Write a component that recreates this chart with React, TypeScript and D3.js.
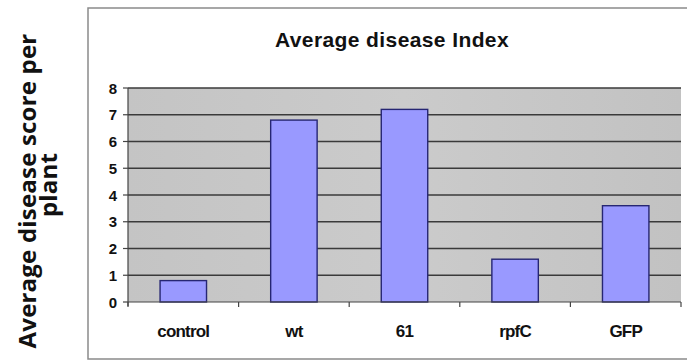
import React from "react";
import * as d3 from "d3";

const categories = ["control", "wt", "61", "rpfC", "GFP"];
const values = [0.8, 6.8, 7.2, 1.6, 3.6];
const yTicks = [0, 1, 2, 3, 4, 5, 6, 7, 8];
const title = "Average disease Index";
const yLabelLines = ["Average disease score per", "plant"];

export default function App() {
  const W = 687, H = 362;
  const plot = { left: 128, right: 681, top: 88, bottom: 302 };
  const x = d3.scaleBand().domain(categories).range([plot.left, plot.right]).paddingInner(0.58).paddingOuter(0.29);
  const y = d3.scaleLinear().domain([0, 8]).range([plot.bottom, plot.top]);
  const step = (plot.right - plot.left) / categories.length;
  const font = "'Liberation Sans', Arial, sans-serif";
  return (
    <svg width={W} height={H} style={{ position: "absolute", left: 0, top: 0, background: "#fff" }}>
      <defs>
        <linearGradient id="bg" x1="0" x2="1" y1="0" y2="0">
          <stop offset="0" stopColor="#c4c4c4" />
          <stop offset="0.5" stopColor="#cbcbcb" />
          <stop offset="1" stopColor="#c2c2c2" />
        </linearGradient>
      </defs>
      {/* chart frame */}
      <rect x={88} y={8} width={W - 88 + 2} height={351} fill="#fff" stroke="#8a8a8a" strokeWidth={1.5} />
      <text x={392} y={47} textAnchor="middle" fontFamily={font} fontWeight="bold" fontSize={21} letterSpacing={0.4} fill="#111">{title}</text>
      {/* plot area */}
      <rect x={plot.left} y={plot.top} width={plot.right - plot.left} height={plot.bottom - plot.top} fill="url(#bg)" />
      {yTicks.slice(1).map((t) => (
        <line key={t} x1={plot.left} x2={plot.right} y1={y(t)} y2={y(t)} stroke="#3a3a3a" strokeWidth={1.3} />
      ))}
      {categories.map((c, i) => (
        <rect key={c} x={x(c)} y={y(values[i])} width={x.bandwidth()} height={plot.bottom - y(values[i])}
          fill="#9999ff" stroke="#262673" strokeWidth={1.4} />
      ))}
      {/* axes */}
      <line x1={plot.left} x2={plot.left} y1={plot.top} y2={plot.bottom + 4} stroke="#444" strokeWidth={1.2} />
      <line x1={plot.left} x2={plot.right} y1={plot.bottom} y2={plot.bottom} stroke="#444" strokeWidth={1.2} />
      {yTicks.map((t) => (
        <g key={t}>
          <line x1={plot.left - 5} x2={plot.left} y1={y(t)} y2={y(t)} stroke="#444" strokeWidth={1.2} />
          <text x={plot.left - 11} y={y(t) + 5.5} textAnchor="end" fontFamily={font} fontWeight="bold" fontSize={15} fill="#111">{t}</text>
        </g>
      ))}
      {d3.range(categories.length + 1).map((i) => (
        <line key={i} x1={plot.left + i * step} x2={plot.left + i * step} y1={plot.bottom} y2={plot.bottom + 5} stroke="#444" strokeWidth={1.2} />
      ))}
      {categories.map((c) => (
        <text key={c} x={x(c)! + x.bandwidth() / 2} y={337} textAnchor="middle" fontFamily={font} fontWeight="bold" fontSize={17} fill="#111" letterSpacing={-0.8}>{c}</text>
      ))}
      {/* y label */}
      <g transform="translate(0,191) rotate(-90)">
        <text x={0} y={36} textAnchor="middle" fontFamily="'Open Sans', sans-serif" fontWeight="bold" fontSize={24} letterSpacing={0.2} fill="#111">{yLabelLines[0]}</text>
        <text x={6} y={57} textAnchor="middle" fontFamily="'Open Sans', sans-serif" fontWeight="bold" fontSize={24} letterSpacing={0.2} fill="#111">{yLabelLines[1]}</text>
      </g>
    </svg>
  );
}
